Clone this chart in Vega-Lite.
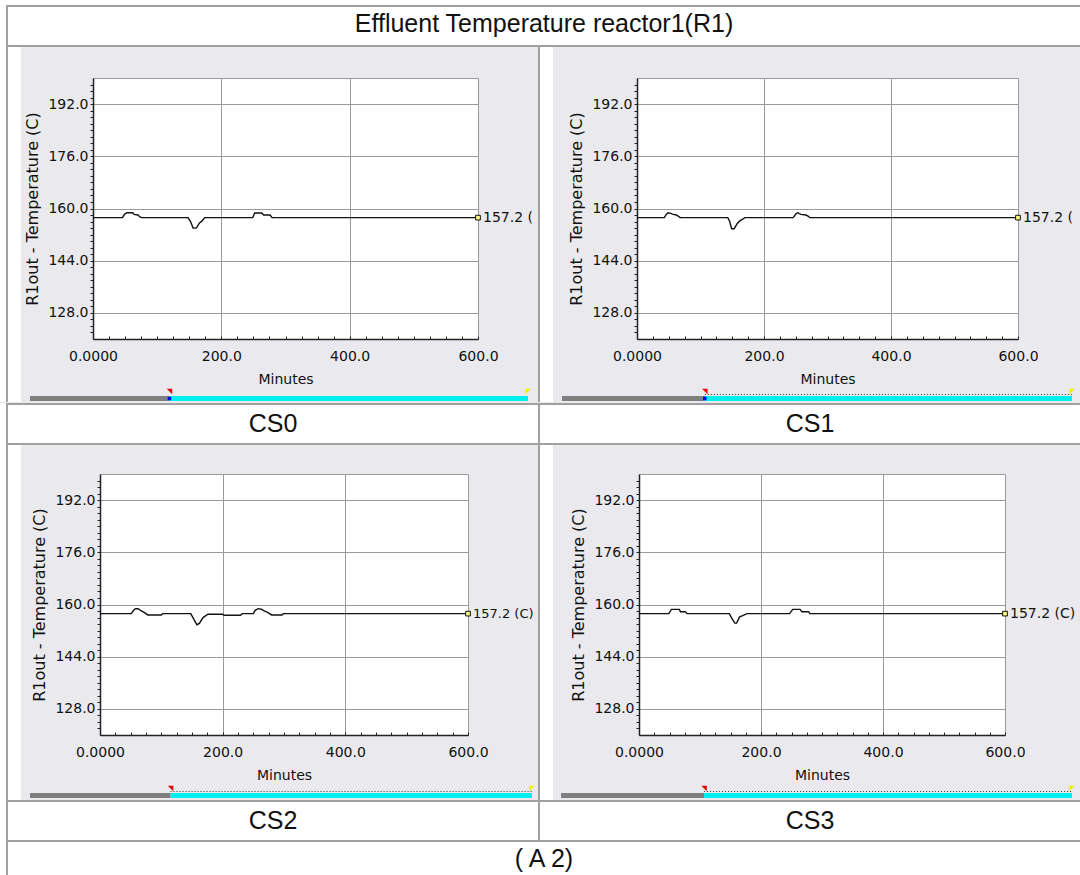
{
  "$schema": "https://vega.github.io/schema/vega-lite/v6.json",
  "padding": 0,
  "background": "#EAEAEE",
  "spacing": 0,
  "config": {
    "view": {"stroke": null},
    "concat": {"spacing": 0},
    "axisX": {"labelFont": "DejaVu Sans", "labelFontSize": 14, "labelColor": "#111", "titleFont": "DejaVu Sans", "titleFontSize": 14, "titleFontWeight": "normal", "titleColor": "#111", "domainColor": "#222", "domainWidth": 1.5, "tickColor": "#222", "gridColor": "#9a9a9a", "labelOverlap": false, "labelFlush": false, "labelBound": false, "tickSize": -3, "labelPadding": 13, "titlePadding": 9},
    "axisY": {"labelFont": "DejaVu Sans", "labelFontSize": 14, "labelColor": "#111", "titleFont": "DejaVu Sans", "titleFontSize": 16, "titleFontWeight": "normal", "titleColor": "#111", "domainColor": "#222", "domainWidth": 1.5, "tickColor": "#222", "gridColor": "#9a9a9a", "labelOverlap": false, "labelFlush": false, "labelBound": false, "tickSize": 3, "labelPadding": 2, "titlePadding": 7}
  },
  "datasets": {
    "cs0": [{"t":0,"v":157.2},{"t":46,"v":157.2},{"t":49,"v":158.2},{"t":53,"v":158.7},{"t":62,"v":158.7},{"t":64,"v":158.2},{"t":70,"v":158.0},{"t":72,"v":157.6},{"t":75,"v":157.2},{"t":148,"v":157.2},{"t":152,"v":156.0},{"t":156,"v":154.0},{"t":161,"v":154.0},{"t":166,"v":155.6},{"t":170,"v":156.2},{"t":174,"v":157.2},{"t":249,"v":157.2},{"t":252,"v":158.6},{"t":263,"v":158.6},{"t":266,"v":158.0},{"t":276,"v":158.0},{"t":279,"v":157.2},{"t":600,"v":157.2}],
    "cs1": [{"t":0,"v":157.2},{"t":43,"v":157.2},{"t":46,"v":158.2},{"t":49,"v":158.7},{"t":53,"v":158.5},{"t":57,"v":158.2},{"t":62,"v":158.0},{"t":66,"v":157.5},{"t":68,"v":157.2},{"t":143,"v":157.2},{"t":146,"v":156.0},{"t":149,"v":153.8},{"t":153,"v":153.8},{"t":158,"v":155.4},{"t":162,"v":156.2},{"t":170,"v":157.2},{"t":246,"v":157.2},{"t":250,"v":158.3},{"t":253,"v":158.7},{"t":258,"v":158.2},{"t":266,"v":158.0},{"t":270,"v":157.6},{"t":272,"v":157.2},{"t":600,"v":157.2}],
    "cs2": [{"t":0,"v":157.2},{"t":51,"v":157.2},{"t":55,"v":158.3},{"t":58,"v":158.7},{"t":62,"v":158.7},{"t":66,"v":158.2},{"t":72,"v":157.6},{"t":78,"v":156.8},{"t":100,"v":156.8},{"t":102,"v":157.2},{"t":148,"v":157.2},{"t":152,"v":155.8},{"t":158,"v":153.8},{"t":162,"v":154.2},{"t":168,"v":156.0},{"t":176,"v":157.0},{"t":200,"v":157.0},{"t":202,"v":156.7},{"t":229,"v":156.7},{"t":232,"v":157.2},{"t":250,"v":157.2},{"t":253,"v":158.2},{"t":258,"v":158.7},{"t":263,"v":158.6},{"t":267,"v":158.1},{"t":273,"v":157.6},{"t":280,"v":156.8},{"t":297,"v":156.8},{"t":299,"v":157.2},{"t":600,"v":157.2}],
    "cs3": [{"t":0,"v":157.2},{"t":49,"v":157.2},{"t":53,"v":158.5},{"t":66,"v":158.5},{"t":68,"v":157.8},{"t":76,"v":157.8},{"t":79,"v":157.2},{"t":148,"v":157.2},{"t":152,"v":155.8},{"t":157,"v":154.3},{"t":160,"v":154.3},{"t":165,"v":156.2},{"t":170,"v":156.6},{"t":177,"v":157.2},{"t":247,"v":157.2},{"t":252,"v":158.5},{"t":264,"v":158.5},{"t":267,"v":157.8},{"t":278,"v":157.8},{"t":280,"v":157.2},{"t":600,"v":157.2}],
    "scroll": [{"seg":"history","s":0,"e":0.28},{"seg":"window","s":0.28,"e":1}]
  },
  "vconcat": [
    {"width": 1080, "height": 5, "data": {"values": [{}]}, "mark": {"type": "point", "size": 0, "opacity": 0, "strokeWidth": 0}, "view": {"fill": "#ffffff"}},
    {"spacing": 0, "hconcat": [
      {"width": 6, "height": 2, "data": {"values": [{}]}, "mark": {"type": "point", "size": 0, "opacity": 0, "strokeWidth": 0}, "view": {"fill": "#ffffff"}},
      {"width": 1074, "height": 2, "data": {"values": [{}]}, "mark": {"type": "point", "size": 0, "opacity": 0, "strokeWidth": 0}, "view": {"fill": "#a0a0a0"}}
    ]},
    {"spacing": 0, "hconcat": [
      {"width": 6, "height": 38, "data": {"values": [{}]}, "mark": {"type": "point", "size": 0, "opacity": 0, "strokeWidth": 0}, "view": {"fill": "#ffffff"}},
      {"width": 2, "height": 38, "data": {"values": [{}]}, "mark": {"type": "point", "size": 0, "opacity": 0, "strokeWidth": 0}, "view": {"fill": "#a0a0a0"}},
      {"width": 1072, "height": 38, "data": {"values": [{"label": "Effluent Temperature reactor1(R1)"}]}, "mark": {"type": "text", "font": "Liberation Sans", "fontSize": 25, "color": "#111", "dy": -2}, "encoding": {"text": {"field": "label"}, "x": {"field": "label", "type": "nominal", "axis": null}, "y": {"field": "label", "type": "nominal", "axis": null}}, "view": {"fill": "#ffffff"}}
    ]},
    {"spacing": 0, "hconcat": [
      {"width": 6, "height": 2, "data": {"values": [{}]}, "mark": {"type": "point", "size": 0, "opacity": 0, "strokeWidth": 0}, "view": {"fill": "#ffffff"}},
      {"width": 1074, "height": 2, "data": {"values": [{}]}, "mark": {"type": "point", "size": 0, "opacity": 0, "strokeWidth": 0}, "view": {"fill": "#a0a0a0"}}
    ]},
    {"spacing": 0, "hconcat": [
      {"width": 6, "height": 355, "data": {"values": [{}]}, "mark": {"type": "point", "size": 0, "opacity": 0, "strokeWidth": 0}, "view": {"fill": "#ffffff"}},
      {"width": 2, "height": 355, "data": {"values": [{}]}, "mark": {"type": "point", "size": 0, "opacity": 0, "strokeWidth": 0}, "view": {"fill": "#a0a0a0"}},
      {"spacing": 0, "hconcat": [
        {"width": 13, "height": 355, "data": {"values": [{}]}, "mark": {"type": "point", "size": 0, "opacity": 0, "strokeWidth": 0}, "view": {"fill": "#ffffff"}},
        {"spacing": 0, "vconcat": [
          {"width": 10, "height": 30, "data": {"values": [{}]}, "mark": {"type": "point", "size": 0, "opacity": 0, "strokeWidth": 0}},
          {"spacing": 0, "bounds": "flush", "hconcat": [
            {"width": 72, "height": 308, "data": {"values": [{}]}, "mark": {"type": "point", "size": 0, "opacity": 0, "strokeWidth": 0}},
            {"width": 385, "height": 261, "view": {"fill": "#ffffff", "stroke": "#9a9a9a"},
             "encoding": {
               "x": {"field": "t", "type": "quantitative", "scale": {"domain": [0, 600], "nice": false, "zero": false},
                 "axis": {"values": [0,25,50,75,100,125,150,175,200,225,250,275,300,325,350,375,400,425,450,475,500,525,550,575,600], "labelExpr": "datum.value % 200 == 0 ? (datum.value == 0 ? '0.0000' : format(datum.value, '.1f')) : ''", "grid": true, "gridOpacity": {"condition": {"test": "datum.value == 200 || datum.value == 400", "value": 1}, "value": 0}, "title": "Minutes"}},
               "y": {"field": "v", "type": "quantitative", "scale": {"domain": [120, 200], "nice": false, "zero": false},
                 "axis": {"values": [122,124,126,128,130,132,134,136,138,140,142,144,146,148,150,152,154,156,158,160,162,164,166,168,170,172,174,176,178,180,182,184,186,188,190,192,194,196,198], "labelExpr": "indexof([128,144,160,176,192], datum.value) >= 0 ? format(datum.value, '.1f') : ''", "grid": true, "gridOpacity": {"condition": {"test": "indexof([128,144,160,176,192], datum.value) >= 0", "value": 1}, "value": 0}, "title": "R1out - Temperature (C)"}}
             },
             "layer": [
               {"data": {"name": "cs0"}, "mark": {"type": "line", "color": "#111", "strokeWidth": 1.4}},
               {"data": {"values": [{"t": 600}]}, "mark": {"type": "rule", "color": "#F0F000", "strokeWidth": 2}, "encoding": {"y": {"datum": 120}, "y2": {"datum": 200}}},
               {"data": {"values": [{"t": 600, "v": 157.2, "label": "157.2 ("}]}, "mark": {"type": "point", "shape": "square", "size": 22, "filled": false, "fill": "#FFFF80", "stroke": "#111", "strokeWidth": 1, "opacity": 1}},
               {"data": {"values": [{"t": 600, "v": 157.2, "label": "157.2 ("}]}, "mark": {"type": "text", "align": "left", "baseline": "middle", "dx": 5, "font": "DejaVu Sans", "fontSize": 14, "color": "#111"}, "encoding": {"text": {"field": "label"}}}
             ]},
            {"width": 60, "height": 308, "data": {"values": [{}]}, "mark": {"type": "point", "size": 0, "opacity": 0, "strokeWidth": 0}}
          ]},
          {"spacing": 0, "hconcat": [
            {"width": 9, "height": 14, "data": {"values": [{}]}, "mark": {"type": "point", "size": 0, "opacity": 0, "strokeWidth": 0}},
            {"width": 498, "height": 14,
             "layer": [
               {"data": {"name": "scroll"}, "mark": {"type": "rect"}, "encoding": {"x": {"field": "s", "type": "quantitative", "scale": {"domain": [0, 1], "nice": false}, "axis": null}, "x2": {"field": "e"}, "y": {"datum": 0, "type": "quantitative", "scale": {"domain": [0, 14], "nice": false}, "axis": null}, "y2": {"datum": 5}, "color": {"field": "seg", "type": "nominal", "scale": {"domain": ["history", "window"], "range": ["#7F7F7F", "#00F0F0"]}, "legend": null}}},
               {"data": {"values": [{"s": 0.28}]}, "mark": {"type": "point", "shape": "square", "size": 12, "filled": true, "color": "#0000FF", "opacity": 1}, "encoding": {"x": {"field": "s", "type": "quantitative"}, "y": {"datum": 2.5, "type": "quantitative"}}},
               {"data": {"values": [{"s": 0.28}]}, "mark": {"type": "point", "shape": "M-1,-1L1,-1L1,1Z", "size": 30, "filled": true, "color": "#F00000", "opacity": 1}, "encoding": {"x": {"field": "s", "type": "quantitative"}, "y": {"datum": 9.5, "type": "quantitative"}}},
               {"data": {"values": [{"s": 1}]}, "mark": {"type": "point", "shape": "M-1,-1L1,-1L-1,1Z", "size": 30, "filled": true, "color": "#F0F000", "opacity": 1}, "encoding": {"x": {"field": "s", "type": "quantitative"}, "y": {"datum": 9.5, "type": "quantitative"}}}
             ]}
          ]},
          {"width": 10, "height": 2, "data": {"values": [{}]}, "mark": {"type": "point", "size": 0, "opacity": 0, "strokeWidth": 0}}
        ]}
      ]},
      {"width": 2, "height": 355, "data": {"values": [{}]}, "mark": {"type": "point", "size": 0, "opacity": 0, "strokeWidth": 0}, "view": {"fill": "#a0a0a0"}},
      {"spacing": 0, "hconcat": [
        {"width": 13, "height": 355, "data": {"values": [{}]}, "mark": {"type": "point", "size": 0, "opacity": 0, "strokeWidth": 0}, "view": {"fill": "#ffffff"}},
        {"spacing": 0, "vconcat": [
          {"width": 10, "height": 30, "data": {"values": [{}]}, "mark": {"type": "point", "size": 0, "opacity": 0, "strokeWidth": 0}},
          {"spacing": 0, "bounds": "flush", "hconcat": [
            {"width": 84, "height": 308, "data": {"values": [{}]}, "mark": {"type": "point", "size": 0, "opacity": 0, "strokeWidth": 0}},
            {"width": 381, "height": 261, "view": {"fill": "#ffffff", "stroke": "#9a9a9a"},
             "encoding": {
               "x": {"field": "t", "type": "quantitative", "scale": {"domain": [0, 600], "nice": false, "zero": false},
                 "axis": {"values": [0,25,50,75,100,125,150,175,200,225,250,275,300,325,350,375,400,425,450,475,500,525,550,575,600], "labelExpr": "datum.value % 200 == 0 ? (datum.value == 0 ? '0.0000' : format(datum.value, '.1f')) : ''", "grid": true, "gridOpacity": {"condition": {"test": "datum.value == 200 || datum.value == 400", "value": 1}, "value": 0}, "title": "Minutes"}},
               "y": {"field": "v", "type": "quantitative", "scale": {"domain": [120, 200], "nice": false, "zero": false},
                 "axis": {"values": [122,124,126,128,130,132,134,136,138,140,142,144,146,148,150,152,154,156,158,160,162,164,166,168,170,172,174,176,178,180,182,184,186,188,190,192,194,196,198], "labelExpr": "indexof([128,144,160,176,192], datum.value) >= 0 ? format(datum.value, '.1f') : ''", "grid": true, "gridOpacity": {"condition": {"test": "indexof([128,144,160,176,192], datum.value) >= 0", "value": 1}, "value": 0}, "title": "R1out - Temperature (C)"}}
             },
             "layer": [
               {"data": {"name": "cs1"}, "mark": {"type": "line", "color": "#111", "strokeWidth": 1.4}},
               {"data": {"values": [{"t": 600}]}, "mark": {"type": "rule", "color": "#F0F000", "strokeWidth": 2}, "encoding": {"y": {"datum": 120}, "y2": {"datum": 200}}},
               {"data": {"values": [{"t": 600, "v": 157.2, "label": "157.2 ("}]}, "mark": {"type": "point", "shape": "square", "size": 22, "filled": false, "fill": "#FFFF80", "stroke": "#111", "strokeWidth": 1, "opacity": 1}},
               {"data": {"values": [{"t": 600, "v": 157.2, "label": "157.2 ("}]}, "mark": {"type": "text", "align": "left", "baseline": "middle", "dx": 5, "font": "DejaVu Sans", "fontSize": 14, "color": "#111"}, "encoding": {"text": {"field": "label"}}}
             ]},
            {"width": 62, "height": 308, "data": {"values": [{}]}, "mark": {"type": "point", "size": 0, "opacity": 0, "strokeWidth": 0}}
          ]},
          {"spacing": 0, "hconcat": [
            {"width": 9, "height": 14, "data": {"values": [{}]}, "mark": {"type": "point", "size": 0, "opacity": 0, "strokeWidth": 0}},
            {"width": 510, "height": 14,
             "layer": [
               {"data": {"name": "scroll"}, "mark": {"type": "rect"}, "encoding": {"x": {"field": "s", "type": "quantitative", "scale": {"domain": [0, 1], "nice": false}, "axis": null}, "x2": {"field": "e"}, "y": {"datum": 0, "type": "quantitative", "scale": {"domain": [0, 14], "nice": false}, "axis": null}, "y2": {"datum": 5}, "color": {"field": "seg", "type": "nominal", "scale": {"domain": ["history", "window"], "range": ["#7F7F7F", "#00F0F0"]}, "legend": null}}},
               {"data": {"values": [{"s": 0.28, "e": 1}]}, "mark": {"type": "rule", "color": "#333", "strokeDash": [1, 2], "strokeWidth": 1}, "encoding": {"x": {"field": "s", "type": "quantitative"}, "x2": {"field": "e"}, "y": {"datum": 6.5, "type": "quantitative"}}},
               {"data": {"values": [{"s": 0.28}]}, "mark": {"type": "point", "shape": "square", "size": 12, "filled": true, "color": "#0000FF", "opacity": 1}, "encoding": {"x": {"field": "s", "type": "quantitative"}, "y": {"datum": 2.5, "type": "quantitative"}}},
               {"data": {"values": [{"s": 0.28}]}, "mark": {"type": "point", "shape": "M-1,-1L1,-1L1,1Z", "size": 30, "filled": true, "color": "#F00000", "opacity": 1}, "encoding": {"x": {"field": "s", "type": "quantitative"}, "y": {"datum": 9.5, "type": "quantitative"}}},
               {"data": {"values": [{"s": 1}]}, "mark": {"type": "point", "shape": "M-1,-1L1,-1L-1,1Z", "size": 30, "filled": true, "color": "#F0F000", "opacity": 1}, "encoding": {"x": {"field": "s", "type": "quantitative"}, "y": {"datum": 9.5, "type": "quantitative"}}}
             ]}
          ]},
          {"width": 10, "height": 2, "data": {"values": [{}]}, "mark": {"type": "point", "size": 0, "opacity": 0, "strokeWidth": 0}}
        ]}
      ]}
    ]},
    {"spacing": 0, "hconcat": [
      {"width": 6, "height": 2, "data": {"values": [{}]}, "mark": {"type": "point", "size": 0, "opacity": 0, "strokeWidth": 0}, "view": {"fill": "#ffffff"}},
      {"width": 1074, "height": 2, "data": {"values": [{}]}, "mark": {"type": "point", "size": 0, "opacity": 0, "strokeWidth": 0}, "view": {"fill": "#a0a0a0"}}
    ]},
    {"spacing": 0, "hconcat": [
      {"width": 6, "height": 38, "data": {"values": [{}]}, "mark": {"type": "point", "size": 0, "opacity": 0, "strokeWidth": 0}, "view": {"fill": "#ffffff"}},
      {"width": 2, "height": 38, "data": {"values": [{}]}, "mark": {"type": "point", "size": 0, "opacity": 0, "strokeWidth": 0}, "view": {"fill": "#a0a0a0"}},
      {"width": 530, "height": 38, "data": {"values": [{"label": "CS0"}]}, "mark": {"type": "text", "font": "Liberation Sans", "fontSize": 25, "color": "#111"}, "encoding": {"text": {"field": "label"}, "x": {"field": "label", "type": "nominal", "axis": null}, "y": {"field": "label", "type": "nominal", "axis": null}}, "view": {"fill": "#ffffff"}},
      {"width": 2, "height": 38, "data": {"values": [{}]}, "mark": {"type": "point", "size": 0, "opacity": 0, "strokeWidth": 0}, "view": {"fill": "#a0a0a0"}},
      {"width": 540, "height": 38, "data": {"values": [{"label": "CS1"}]}, "mark": {"type": "text", "font": "Liberation Sans", "fontSize": 25, "color": "#111"}, "encoding": {"text": {"field": "label"}, "x": {"field": "label", "type": "nominal", "axis": null}, "y": {"field": "label", "type": "nominal", "axis": null}}, "view": {"fill": "#ffffff"}}
    ]},
    {"spacing": 0, "hconcat": [
      {"width": 6, "height": 2, "data": {"values": [{}]}, "mark": {"type": "point", "size": 0, "opacity": 0, "strokeWidth": 0}, "view": {"fill": "#ffffff"}},
      {"width": 1074, "height": 2, "data": {"values": [{}]}, "mark": {"type": "point", "size": 0, "opacity": 0, "strokeWidth": 0}, "view": {"fill": "#a0a0a0"}}
    ]},
    {"spacing": 0, "hconcat": [
      {"width": 6, "height": 355, "data": {"values": [{}]}, "mark": {"type": "point", "size": 0, "opacity": 0, "strokeWidth": 0}, "view": {"fill": "#ffffff"}},
      {"width": 2, "height": 355, "data": {"values": [{}]}, "mark": {"type": "point", "size": 0, "opacity": 0, "strokeWidth": 0}, "view": {"fill": "#a0a0a0"}},
      {"spacing": 0, "hconcat": [
        {"width": 13, "height": 355, "data": {"values": [{}]}, "mark": {"type": "point", "size": 0, "opacity": 0, "strokeWidth": 0}, "view": {"fill": "#ffffff"}},
        {"spacing": 0, "vconcat": [
          {"width": 10, "height": 28, "data": {"values": [{}]}, "mark": {"type": "point", "size": 0, "opacity": 0, "strokeWidth": 0}},
          {"spacing": 0, "bounds": "flush", "hconcat": [
            {"width": 79, "height": 310, "data": {"values": [{}]}, "mark": {"type": "point", "size": 0, "opacity": 0, "strokeWidth": 0}},
            {"width": 368, "height": 261, "view": {"fill": "#ffffff", "stroke": "#9a9a9a"},
             "encoding": {
               "x": {"field": "t", "type": "quantitative", "scale": {"domain": [0, 600], "nice": false, "zero": false},
                 "axis": {"values": [0,25,50,75,100,125,150,175,200,225,250,275,300,325,350,375,400,425,450,475,500,525,550,575,600], "labelExpr": "datum.value % 200 == 0 ? (datum.value == 0 ? '0.0000' : format(datum.value, '.1f')) : ''", "grid": true, "gridOpacity": {"condition": {"test": "datum.value == 200 || datum.value == 400", "value": 1}, "value": 0}, "title": "Minutes"}},
               "y": {"field": "v", "type": "quantitative", "scale": {"domain": [120, 200], "nice": false, "zero": false},
                 "axis": {"values": [122,124,126,128,130,132,134,136,138,140,142,144,146,148,150,152,154,156,158,160,162,164,166,168,170,172,174,176,178,180,182,184,186,188,190,192,194,196,198], "labelExpr": "indexof([128,144,160,176,192], datum.value) >= 0 ? format(datum.value, '.1f') : ''", "grid": true, "gridOpacity": {"condition": {"test": "indexof([128,144,160,176,192], datum.value) >= 0", "value": 1}, "value": 0}, "title": "R1out - Temperature (C)"}}
             },
             "layer": [
               {"data": {"name": "cs2"}, "mark": {"type": "line", "color": "#111", "strokeWidth": 1.4}},
               {"data": {"values": [{"t": 600}]}, "mark": {"type": "rule", "color": "#F0F000", "strokeWidth": 2}, "encoding": {"y": {"datum": 120}, "y2": {"datum": 200}}},
               {"data": {"values": [{"t": 600, "v": 157.2, "label": "157.2 (C)"}]}, "mark": {"type": "point", "shape": "square", "size": 22, "filled": false, "fill": "#FFFF80", "stroke": "#111", "strokeWidth": 1, "opacity": 1}},
               {"data": {"values": [{"t": 600, "v": 157.2, "label": "157.2 (C)"}]}, "mark": {"type": "text", "align": "left", "baseline": "middle", "dx": 5, "font": "DejaVu Sans", "fontSize": 13, "color": "#111"}, "encoding": {"text": {"field": "label"}}}
             ]},
            {"width": 70, "height": 310, "data": {"values": [{}]}, "mark": {"type": "point", "size": 0, "opacity": 0, "strokeWidth": 0}}
          ]},
          {"spacing": 0, "hconcat": [
            {"width": 9, "height": 14, "data": {"values": [{}]}, "mark": {"type": "point", "size": 0, "opacity": 0, "strokeWidth": 0}},
            {"width": 502, "height": 14,
             "layer": [
               {"data": {"name": "scroll"}, "mark": {"type": "rect"}, "encoding": {"x": {"field": "s", "type": "quantitative", "scale": {"domain": [0, 1], "nice": false}, "axis": null}, "x2": {"field": "e"}, "y": {"datum": 0, "type": "quantitative", "scale": {"domain": [0, 14], "nice": false}, "axis": null}, "y2": {"datum": 5}, "color": {"field": "seg", "type": "nominal", "scale": {"domain": ["history", "window"], "range": ["#7F7F7F", "#00F0F0"]}, "legend": null}}},
               {"data": {"values": [{"s": 0.28, "e": 1}]}, "mark": {"type": "rule", "color": "#333", "strokeDash": [1, 2], "strokeWidth": 1}, "encoding": {"x": {"field": "s", "type": "quantitative"}, "x2": {"field": "e"}, "y": {"datum": 6.5, "type": "quantitative"}}},
               {"data": {"values": [{"s": 0.28}]}, "mark": {"type": "point", "shape": "M-1,-1L1,-1L1,1Z", "size": 30, "filled": true, "color": "#F00000", "opacity": 1}, "encoding": {"x": {"field": "s", "type": "quantitative"}, "y": {"datum": 9.5, "type": "quantitative"}}},
               {"data": {"values": [{"s": 1}]}, "mark": {"type": "point", "shape": "M-1,-1L1,-1L-1,1Z", "size": 30, "filled": true, "color": "#F0F000", "opacity": 1}, "encoding": {"x": {"field": "s", "type": "quantitative"}, "y": {"datum": 9.5, "type": "quantitative"}}}
             ]}
          ]},
          {"width": 10, "height": 2, "data": {"values": [{}]}, "mark": {"type": "point", "size": 0, "opacity": 0, "strokeWidth": 0}}
        ]}
      ]},
      {"width": 2, "height": 355, "data": {"values": [{}]}, "mark": {"type": "point", "size": 0, "opacity": 0, "strokeWidth": 0}, "view": {"fill": "#a0a0a0"}},
      {"spacing": 0, "hconcat": [
        {"width": 13, "height": 355, "data": {"values": [{}]}, "mark": {"type": "point", "size": 0, "opacity": 0, "strokeWidth": 0}, "view": {"fill": "#ffffff"}},
        {"spacing": 0, "vconcat": [
          {"width": 10, "height": 28, "data": {"values": [{}]}, "mark": {"type": "point", "size": 0, "opacity": 0, "strokeWidth": 0}},
          {"spacing": 0, "bounds": "flush", "hconcat": [
            {"width": 86, "height": 310, "data": {"values": [{}]}, "mark": {"type": "point", "size": 0, "opacity": 0, "strokeWidth": 0}},
            {"width": 366, "height": 261, "view": {"fill": "#ffffff", "stroke": "#9a9a9a"},
             "encoding": {
               "x": {"field": "t", "type": "quantitative", "scale": {"domain": [0, 600], "nice": false, "zero": false},
                 "axis": {"values": [0,25,50,75,100,125,150,175,200,225,250,275,300,325,350,375,400,425,450,475,500,525,550,575,600], "labelExpr": "datum.value % 200 == 0 ? (datum.value == 0 ? '0.0000' : format(datum.value, '.1f')) : ''", "grid": true, "gridOpacity": {"condition": {"test": "datum.value == 200 || datum.value == 400", "value": 1}, "value": 0}, "title": "Minutes"}},
               "y": {"field": "v", "type": "quantitative", "scale": {"domain": [120, 200], "nice": false, "zero": false},
                 "axis": {"values": [122,124,126,128,130,132,134,136,138,140,142,144,146,148,150,152,154,156,158,160,162,164,166,168,170,172,174,176,178,180,182,184,186,188,190,192,194,196,198], "labelExpr": "indexof([128,144,160,176,192], datum.value) >= 0 ? format(datum.value, '.1f') : ''", "grid": true, "gridOpacity": {"condition": {"test": "indexof([128,144,160,176,192], datum.value) >= 0", "value": 1}, "value": 0}, "title": "R1out - Temperature (C)"}}
             },
             "layer": [
               {"data": {"name": "cs3"}, "mark": {"type": "line", "color": "#111", "strokeWidth": 1.4}},
               {"data": {"values": [{"t": 600}]}, "mark": {"type": "rule", "color": "#F0F000", "strokeWidth": 2}, "encoding": {"y": {"datum": 120}, "y2": {"datum": 200}}},
               {"data": {"values": [{"t": 600, "v": 157.2, "label": "157.2 (C)"}]}, "mark": {"type": "point", "shape": "square", "size": 22, "filled": false, "fill": "#FFFF80", "stroke": "#111", "strokeWidth": 1, "opacity": 1}},
               {"data": {"values": [{"t": 600, "v": 157.2, "label": "157.2 (C)"}]}, "mark": {"type": "text", "align": "left", "baseline": "middle", "dx": 5, "font": "DejaVu Sans", "fontSize": 14, "color": "#111"}, "encoding": {"text": {"field": "label"}}}
             ]},
            {"width": 75, "height": 310, "data": {"values": [{}]}, "mark": {"type": "point", "size": 0, "opacity": 0, "strokeWidth": 0}}
          ]},
          {"spacing": 0, "hconcat": [
            {"width": 8, "height": 14, "data": {"values": [{}]}, "mark": {"type": "point", "size": 0, "opacity": 0, "strokeWidth": 0}},
            {"width": 511, "height": 14,
             "layer": [
               {"data": {"name": "scroll"}, "mark": {"type": "rect"}, "encoding": {"x": {"field": "s", "type": "quantitative", "scale": {"domain": [0, 1], "nice": false}, "axis": null}, "x2": {"field": "e"}, "y": {"datum": 0, "type": "quantitative", "scale": {"domain": [0, 14], "nice": false}, "axis": null}, "y2": {"datum": 5}, "color": {"field": "seg", "type": "nominal", "scale": {"domain": ["history", "window"], "range": ["#7F7F7F", "#00F0F0"]}, "legend": null}}},
               {"data": {"values": [{"s": 0.28, "e": 1}]}, "mark": {"type": "rule", "color": "#333", "strokeDash": [1, 2], "strokeWidth": 1}, "encoding": {"x": {"field": "s", "type": "quantitative"}, "x2": {"field": "e"}, "y": {"datum": 6.5, "type": "quantitative"}}},
               {"data": {"values": [{"s": 0.28}]}, "mark": {"type": "point", "shape": "M-1,-1L1,-1L1,1Z", "size": 30, "filled": true, "color": "#F00000", "opacity": 1}, "encoding": {"x": {"field": "s", "type": "quantitative"}, "y": {"datum": 9.5, "type": "quantitative"}}},
               {"data": {"values": [{"s": 1}]}, "mark": {"type": "point", "shape": "M-1,-1L1,-1L-1,1Z", "size": 30, "filled": true, "color": "#F0F000", "opacity": 1}, "encoding": {"x": {"field": "s", "type": "quantitative"}, "y": {"datum": 9.5, "type": "quantitative"}}}
             ]}
          ]},
          {"width": 10, "height": 2, "data": {"values": [{}]}, "mark": {"type": "point", "size": 0, "opacity": 0, "strokeWidth": 0}}
        ]}
      ]}
    ]},
    {"spacing": 0, "hconcat": [
      {"width": 6, "height": 2, "data": {"values": [{}]}, "mark": {"type": "point", "size": 0, "opacity": 0, "strokeWidth": 0}, "view": {"fill": "#ffffff"}},
      {"width": 1074, "height": 2, "data": {"values": [{}]}, "mark": {"type": "point", "size": 0, "opacity": 0, "strokeWidth": 0}, "view": {"fill": "#a0a0a0"}}
    ]},
    {"spacing": 0, "hconcat": [
      {"width": 6, "height": 38, "data": {"values": [{}]}, "mark": {"type": "point", "size": 0, "opacity": 0, "strokeWidth": 0}, "view": {"fill": "#ffffff"}},
      {"width": 2, "height": 38, "data": {"values": [{}]}, "mark": {"type": "point", "size": 0, "opacity": 0, "strokeWidth": 0}, "view": {"fill": "#a0a0a0"}},
      {"width": 530, "height": 38, "data": {"values": [{"label": "CS2"}]}, "mark": {"type": "text", "font": "Liberation Sans", "fontSize": 25, "color": "#111"}, "encoding": {"text": {"field": "label"}, "x": {"field": "label", "type": "nominal", "axis": null}, "y": {"field": "label", "type": "nominal", "axis": null}}, "view": {"fill": "#ffffff"}},
      {"width": 2, "height": 38, "data": {"values": [{}]}, "mark": {"type": "point", "size": 0, "opacity": 0, "strokeWidth": 0}, "view": {"fill": "#a0a0a0"}},
      {"width": 540, "height": 38, "data": {"values": [{"label": "CS3"}]}, "mark": {"type": "text", "font": "Liberation Sans", "fontSize": 25, "color": "#111"}, "encoding": {"text": {"field": "label"}, "x": {"field": "label", "type": "nominal", "axis": null}, "y": {"field": "label", "type": "nominal", "axis": null}}, "view": {"fill": "#ffffff"}}
    ]},
    {"spacing": 0, "hconcat": [
      {"width": 6, "height": 2, "data": {"values": [{}]}, "mark": {"type": "point", "size": 0, "opacity": 0, "strokeWidth": 0}, "view": {"fill": "#ffffff"}},
      {"width": 1074, "height": 2, "data": {"values": [{}]}, "mark": {"type": "point", "size": 0, "opacity": 0, "strokeWidth": 0}, "view": {"fill": "#a0a0a0"}}
    ]},
    {"spacing": 0, "hconcat": [
      {"width": 6, "height": 34, "data": {"values": [{}]}, "mark": {"type": "point", "size": 0, "opacity": 0, "strokeWidth": 0}, "view": {"fill": "#ffffff"}},
      {"width": 2, "height": 34, "data": {"values": [{}]}, "mark": {"type": "point", "size": 0, "opacity": 0, "strokeWidth": 0}, "view": {"fill": "#a0a0a0"}},
      {"width": 1072, "height": 34, "data": {"values": [{"label": "( A 2)"}]}, "mark": {"type": "text", "font": "Liberation Sans", "fontSize": 25, "color": "#111"}, "encoding": {"text": {"field": "label"}, "x": {"field": "label", "type": "nominal", "axis": null}, "y": {"field": "label", "type": "nominal", "axis": null}}, "view": {"fill": "#ffffff"}}
    ]}
  ]
}
